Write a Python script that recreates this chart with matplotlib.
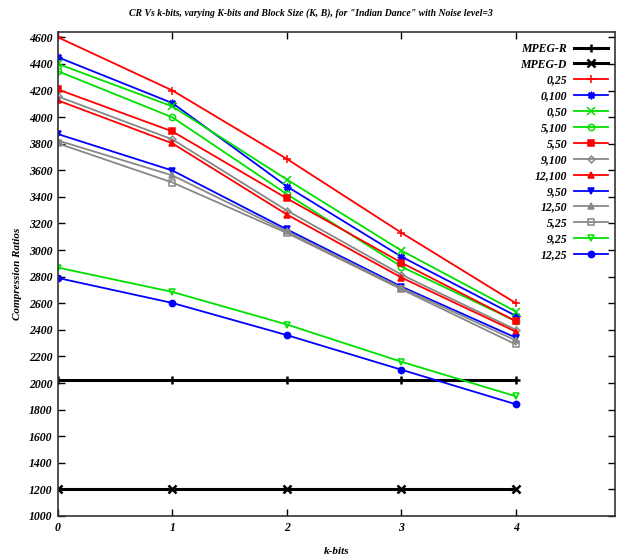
import matplotlib
matplotlib.use("Agg")
import matplotlib.pyplot as plt
import numpy as np

# k-bits values on the x axis
k_bits = [0, 1, 2, 3, 4]

# reference codecs (flat lines)
mpeg_r = [2020, 2020, 2020, 2020, 2020]
mpeg_d = [1200, 1200, 1200, 1200, 1200]

# compression ratios for each (K, B) setting
cr_0_25 = [4600, 4200, 3685, 3130, 2600]
cr_0_100 = [4450, 4105, 3478, 2950, 2505]
cr_0_50 = [4400, 4080, 3530, 2996, 2537]
cr_5_100 = [4345, 3998, 3420, 2875, 2465]
cr_5_50 = [4208, 3892, 3388, 2905, 2465]
cr_9_100 = [4155, 3832, 3297, 2815, 2400]
cr_12_100 = [4125, 3802, 3267, 2793, 2386]
cr_9_50 = [3872, 3598, 3155, 2725, 2341]
cr_12_50 = [3824, 3561, 3140, 2715, 2320]
cr_5_25 = [3802, 3508, 3128, 2705, 2290]
cr_9_25 = [2868, 2685, 2440, 2160, 1900]
cr_12_25 = [2790, 2602, 2360, 2100, 1840]

font = {"family": "Liberation Serif", "style": "italic", "weight": "bold"}
plt.rcParams["font.family"] = "Liberation Serif"
plt.rcParams["font.style"] = "italic"
plt.rcParams["font.weight"] = "bold"

RED, GREEN, BLUE, GRAY = "#ff0000", "#00e000", "#0000ff", "#888888"

series = [
    ("MPEG-R", mpeg_r, "black", "+", "full", 2.2),
    ("MPEG-D", mpeg_d, "black", "x", "full", 2.2),
    ("0,25", cr_0_25, RED, "+", "full", 1.3),
    ("0,100", cr_0_100, BLUE, (8, 2, 0), "full", 1.3),
    ("0,50", cr_0_50, GREEN, "x", "full", 1.3),
    ("5,100", cr_5_100, GREEN, "o", "none", 1.3),
    ("5,50", cr_5_50, RED, "s", "full", 1.3),
    ("9,100", cr_9_100, GRAY, "D", "none", 1.3),
    ("12,100", cr_12_100, RED, "^", "full", 1.3),
    ("9,50", cr_9_50, BLUE, "v", "full", 1.3),
    ("12,50", cr_12_50, GRAY, "^", "full", 1.3),
    ("5,25", cr_5_25, GRAY, "s", "none", 1.3),
    ("9,25", cr_9_25, GREEN, "v", "none", 1.3),
    ("12,25", cr_12_25, BLUE, "o", "full", 1.3),
]

fig = plt.figure(figsize=(6.21, 5.6), dpi=100)
ax = fig.add_axes([58 / 621, 1 - 516 / 560, 557 / 621, 484 / 560])

for label, vals, color, marker, fill, lw in series:
    size = 5.5 if marker in ("+", "x", (8, 2, 0)) else 4.5
    if marker == "D":
        size = 3.5
    mew = 1.8 if color == "black" else 1.1
    ax.plot(k_bits, vals, color=color, lw=lw, marker=marker, markersize=size,
            markeredgewidth=mew, fillstyle=fill, label=label)

ax.set_xlim(0, 4.865)
ax.set_ylim(1000, 4640)
ax.set_xticks(k_bits)
ax.set_yticks(np.arange(1000, 4601, 200))
ax.tick_params(direction="in", length=5, width=1, top=True, right=True,
               labelsize=8.5, pad=4)
for spine in ax.spines.values():
    spine.set_linewidth(1.2)
    spine.set_color("#333333")

ax.set_xlabel("k-bits", fontdict=dict(font, size=8), labelpad=10)
ax.set_ylabel("Compression Ratios", fontdict=dict(font, size=8), labelpad=5)
fig.text(0.5, 1 - 13 / 560, 'CR Vs k-bits, varying K-bits and Block Size (K, B), for "Indian Dance" with Noise level=3',
         ha="center", va="center", fontdict=dict(font, size=7))

leg = ax.legend(loc="upper right", bbox_to_anchor=(0.988, 0.978), frameon=False,
                markerfirst=False, fontsize=8.5, handlelength=2.9,
                handletextpad=0.6, labelspacing=0.33, borderpad=0,
                borderaxespad=0)

fig.savefig("out.png", dpi=100)
